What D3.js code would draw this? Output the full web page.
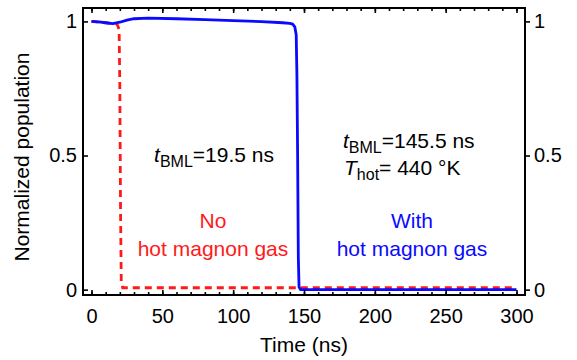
<!DOCTYPE html>
<html>
<head>
<meta charset="utf-8">
<script src="https://cdn.jsdelivr.net/npm/d3@7"></script>
<style>
  html, body { margin: 0; padding: 0; background: #fff; }
  svg { display: block; font-family: "Liberation Sans", Arial, sans-serif; }
</style>
</head>
<body>
<svg id="chart" width="577" height="360"></svg>
<script>
// Blue: with hot magnon gas (BML time 145.5 ns)
const withGasTime  = [0, 5, 10, 15, 20, 25, 30, 40, 60, 80, 100, 120, 135, 140, 142, 143.5, 144.5, 145, 145.5, 146, 146.5, 147.5, 150, 200, 250, 300];
const withGasValue = [1.0, 0.998, 0.995, 0.992, 0.997, 1.005, 1.01, 1.012, 1.01, 1.007, 1.003, 0.999, 0.995, 0.993, 0.99, 0.98, 0.95, 0.8, 0.5, 0.12, 0.01, 0.0, 0.0, 0.0, 0.0, 0.0];

// Red dashed: no hot magnon gas (BML time 19.5 ns)
const noGasTime  = [0, 10, 18, 19.5, 20, 20.5, 21, 22, 30, 100, 200, 300];
const noGasValue = [1.0, 0.995, 0.99, 0.97, 0.75, 0.3, 0.03, 0.007, 0.007, 0.007, 0.007, 0.007];

const xTicks = [0, 50, 100, 150, 200, 250, 300];
const xMinorTicks = d3.range(0, 301, 10);
const yTicks = [0, 0.5, 1];
const yTickLabels = ["0", "0.5", "1"];

const svg = d3.select("#chart");
const plotLeft = 83, plotRight = 525, plotTop = 8, plotBottom = 295;

const x = d3.scaleLinear().domain([-6, 306]).range([plotLeft, plotRight]);
const y = d3.scaleLinear().domain([-0.02, 1.05]).range([plotBottom, plotTop]);

const blue = "#0a0aff", red = "#ff1a1a";

// curves
const line = d3.line().x(d => x(d[0])).y(d => y(d[1]));
svg.append("path")
  .datum(noGasTime.map((t, i) => [t, noGasValue[i]]))
  .attr("d", line)
  .attr("fill", "none").attr("stroke", red).attr("stroke-width", 2.8)
  .attr("stroke-dasharray", "7,5");
svg.append("path")
  .datum(withGasTime.map((t, i) => [t, withGasValue[i]]))
  .attr("d", line)
  .attr("fill", "none").attr("stroke", blue).attr("stroke-width", 2.8)
  .attr("stroke-linejoin", "round");

// bottom and top axes (ticks pointing inward)
const fmt = d => String(d);
const gB = svg.append("g").attr("transform", `translate(0,${plotBottom})`);
gB.call(d3.axisBottom(x).tickValues(xMinorTicks).tickSize(-3).tickFormat(""));
gB.append("g").call(d3.axisBottom(x).tickValues(xTicks).tickSize(-5).tickPadding(14).tickFormat(fmt));
const gT = svg.append("g").attr("transform", `translate(0,${plotTop})`);
gT.call(d3.axisTop(x).tickValues(xMinorTicks).tickSize(-3).tickFormat(""));
gT.append("g").call(d3.axisTop(x).tickValues(xTicks).tickSize(-5).tickFormat(""));

// left axis (inward ticks), right axis (outward ticks)
const gL = svg.append("g").attr("transform", `translate(${plotLeft},0)`);
gL.call(d3.axisLeft(y).tickValues(yTicks).tickSize(-5).tickPadding(6).tickFormat((d, i) => yTickLabels[i]));
const gR = svg.append("g").attr("transform", `translate(${plotRight},0)`);
gR.call(d3.axisRight(y).tickValues(yTicks).tickSize(5).tickPadding(4).tickFormat((d, i) => yTickLabels[i]));

svg.selectAll(".domain").remove();
svg.selectAll(".tick line").attr("stroke", "#000").attr("stroke-width", 1.6);
svg.selectAll(".tick text").attr("font-size", 20).attr("fill", "#000")
  .attr("font-family", "'Liberation Sans', Arial, sans-serif");

// frame
svg.append("rect").attr("x", plotLeft).attr("y", plotTop)
  .attr("width", plotRight - plotLeft).attr("height", plotBottom - plotTop)
  .attr("fill", "none").attr("stroke", "#000").attr("stroke-width", 2);

// axis titles
svg.append("text").attr("x", 304).attr("y", 352).attr("text-anchor", "middle")
  .attr("font-size", 21).text("Time (ns)");
svg.append("text").attr("transform", "translate(29,157) rotate(-90)")
  .attr("text-anchor", "middle").attr("font-size", 21).text("Normalized population");

// annotations
function bml(xPos, yPos, value, anchor) {
  const t = svg.append("text").attr("x", xPos).attr("y", yPos)
    .attr("font-size", 21).attr("text-anchor", anchor).attr("fill", "#000");
  t.append("tspan").attr("font-style", "italic").text("t");
  t.append("tspan").attr("font-size", 16).attr("dy", 5).text("BML");
  t.append("tspan").attr("dy", -5).text("=" + value + " ns");
}
bml(214, 162, "19.5", "middle");
bml(343, 148, "145.5", "start");

const th = svg.append("text").attr("x", 344).attr("y", 175).attr("font-size", 21).attr("fill", "#000");
th.append("tspan").attr("font-style", "italic").text("T");
th.append("tspan").attr("font-size", 16).attr("dy", 5).text("hot");
th.append("tspan").attr("dy", -5).text("= 440 °K");

svg.append("text").attr("x", 213).attr("y", 228).attr("text-anchor", "middle")
  .attr("font-size", 21).attr("fill", red).text("No");
svg.append("text").attr("x", 213).attr("y", 256).attr("text-anchor", "middle")
  .attr("font-size", 21).attr("fill", red).text("hot magnon gas");
svg.append("text").attr("x", 412).attr("y", 228).attr("text-anchor", "middle")
  .attr("font-size", 21).attr("fill", blue).text("With");
svg.append("text").attr("x", 412).attr("y", 256).attr("text-anchor", "middle")
  .attr("font-size", 21).attr("fill", blue).text("hot magnon gas");
</script>
</body>
</html>
